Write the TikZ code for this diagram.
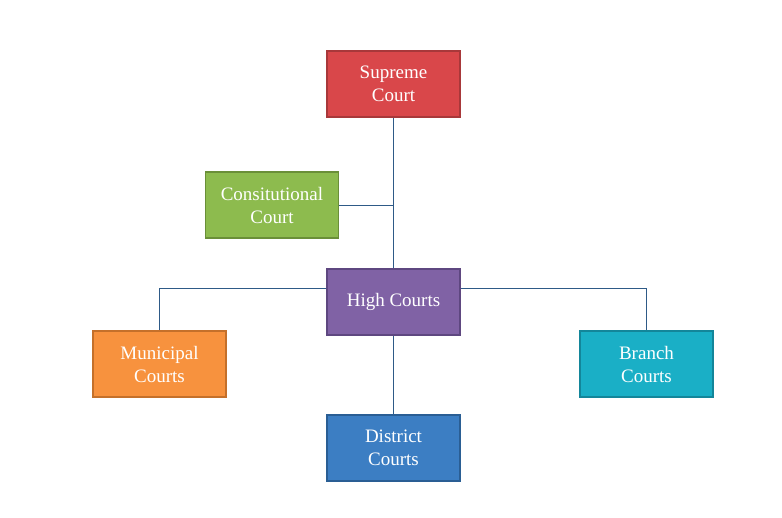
\documentclass[tikz,border=0pt]{standalone}
\usepackage{fontspec}
\setmainfont{Liberation Serif}
\definecolor{cred}{HTML}{D9474A}\definecolor{bred}{HTML}{A8383A}
\definecolor{cgreen}{HTML}{8DBB4E}\definecolor{bgreen}{HTML}{6A8F38}
\definecolor{cpurple}{HTML}{8062A5}\definecolor{bpurple}{HTML}{5E4780}
\definecolor{corange}{HTML}{F7923E}\definecolor{borange}{HTML}{C4702A}
\definecolor{cteal}{HTML}{1AAFC6}\definecolor{bteal}{HTML}{13869A}
\definecolor{cblue}{HTML}{3C7EC3}\definecolor{bblue}{HTML}{2A5E94}
\definecolor{cline}{HTML}{2E5A87}
\tikzset{court/.style={draw=#1, line width=1.5pt, minimum width=133pt, minimum height=66pt, inner sep=1pt, align=center, text=white, font=\fontsize{19}{23}\selectfont},
conn/.style={draw=cline, line width=0.8pt}}
\begin{document}
\begin{tikzpicture}[x=1pt,y=-1pt]
\useasboundingbox (0,0) rectangle (782,517);
\node[court=bred, fill=cred] (sup) at (393.5,84) {Supreme\\Court};
\node[court=bgreen, fill=cgreen] (con) at (272,205) {Consitutional\\Court};
\node[court=bpurple, fill=cpurple] (high) at (393.5,302) {High Courts};
\node[court=borange, fill=corange] (mun) at (159.5,364) {Municipal\\Courts};
\node[court=bteal, fill=cteal] (br) at (646.5,364) {Branch\\Courts};
\node[court=bblue, fill=cblue] (dis) at (393.5,448) {District\\Courts};
\begin{scope}[on background layer/.style={}]
\draw[conn] (sup.south) -- (high.north);
\draw[conn] (con.east) -- (con.east -| sup.south);
\draw[conn] ([yshift=14pt]high.west) -| (mun.north);
\draw[conn] ([yshift=14pt]high.east) -| (br.north);
\draw[conn] (high.south) -- (dis.north);
\end{scope}
\end{tikzpicture}
\end{document}
